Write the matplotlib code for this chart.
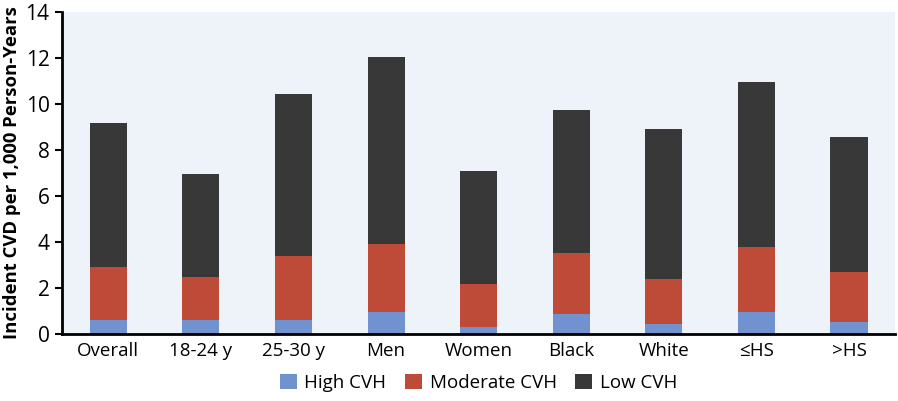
import matplotlib.pyplot as plt
import numpy as np

plt.rcParams['font.family'] = ['Open Sans', 'DejaVu Sans']

# data
groups = ["Overall", "18-24 y", "25-30 y", "Men", "Women", "Black", "White", "≤HS", ">HS"]
high_cvh = [0.60, 0.60, 0.60, 0.96, 0.29, 0.88, 0.43, 0.96, 0.52]
moderate_top = [2.93, 2.46, 3.38, 3.91, 2.19, 3.52, 2.39, 3.78, 2.71]
total = [9.17, 6.97, 10.43, 12.04, 7.10, 9.72, 8.93, 10.94, 8.58]

moderate_cvh = [m - h for m, h in zip(moderate_top, high_cvh)]
low_cvh = [t - m for t, m in zip(total, moderate_top)]

fig = plt.figure(figsize=(8.98, 4.01), dpi=100)
ax = fig.add_axes([0.069, 0.167, 0.928, 0.803])
ax.set_facecolor("#EEF2F9")

x = np.arange(len(groups))
w = 0.4
ax.bar(x, high_cvh, w, color="#7093D0", label="High CVH")
ax.bar(x, moderate_cvh, w, bottom=high_cvh, color="#BE4A38", label="Moderate CVH")
ax.bar(x, low_cvh, w, bottom=moderate_top, color="#383838", label="Low CVH")

ax.set_xlim(-0.5, len(groups) - 0.5)
ax.set_ylim(0, 14)
ax.set_yticks(range(0, 15, 2))
ax.set_xticks(x)
ax.set_xticklabels(groups, fontsize=13.5)
ax.tick_params(axis="y", labelsize=15, length=5, width=1.5, pad=4)
ax.tick_params(axis="x", length=0, pad=6)
ax.set_ylabel("Incident CVD per 1,000 Person-Years", fontsize=13.3, fontweight="bold", labelpad=3)

for s in ["top", "right"]:
    ax.spines[s].set_visible(False)
ax.spines["left"].set_linewidth(2)
ax.spines["bottom"].set_linewidth(2)

fig.legend(loc="center", bbox_to_anchor=(0.533, 0.045), ncol=3, frameon=False,
           fontsize=13.5, handlelength=0.9, handleheight=0.9, handletextpad=0.4,
           columnspacing=1.0)

fig.savefig("out.png", dpi=100)
